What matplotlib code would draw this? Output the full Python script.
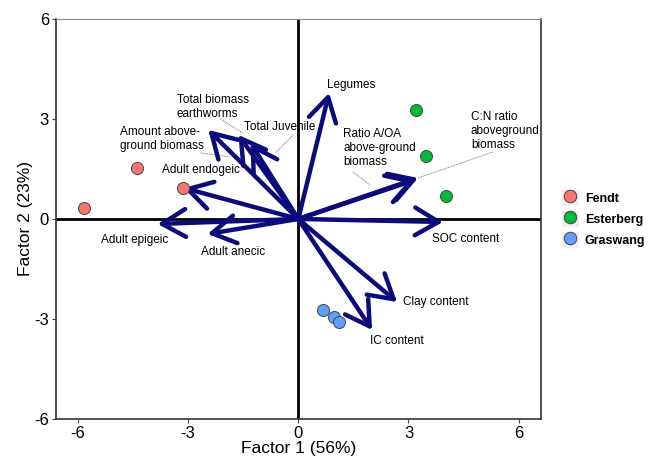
import matplotlib
matplotlib.use("Agg")
import matplotlib.pyplot as plt
from matplotlib.lines import Line2D
from matplotlib.patches import Rectangle

plt.rcParams["font.family"] = ["Liberation Sans", "DejaVu Sans"]
plt.rcParams["axes.unicode_minus"] = False

# site scores
sites = ["Fendt", "Esterberg", "Graswang"]
site_colors = ["#F8766D", "#00BA38", "#619CFF"]
fendt_x = [-5.84, -4.40, -3.15]
fendt_y = [0.33, 1.53, 0.93]
esterberg_x = [3.21, 3.48, 4.02]
esterberg_y = [3.27, 1.89, 0.69]
graswang_x = [0.68, 0.98, 1.11]
graswang_y = [-2.73, -2.94, -3.09]

# variable loadings (arrow tips)
var_names = ["Legumes", "Total biomass earthworms", "Total Juvenile",
             "Amount above-ground biomass", "Adult endogeic", "Adult epigeic",
             "Adult anecic", "Ratio A/OA above-ground biomass",
             "C:N ratio aboveground biomass", "SOC content", "Clay content",
             "IC content"]
var_x = [0.84, -1.63, -1.30, -2.45, -3.12, -3.83, -2.47, 3.18, 3.26, 3.94, 2.69, 2.01]
var_y = [3.78, 2.52, 2.28, 2.67, 0.93, -0.15, -0.45, 1.17, 1.23, -0.09, -2.49, -3.33]

# label text and positions
label_text = ["Legumes", "Total biomass\nearthworms", "Total Juvenile",
              "Amount above-\nground biomass", "Adult endogeic", "Adult epigeic",
              "Adult anecic", "Ratio A/OA\nabove-ground\nbiomass",
              "C:N ratio\naboveground\nbiomass", "SOC content", "Clay content",
              "IC content"]
label_x = [0.79, -3.31, -1.47, -4.86, -3.70, -5.38, -2.66, 1.22, 4.70, 3.64, 2.85, 1.96]
label_y = [4.02, 3.36, 2.76, 2.40, 1.47, -0.63, -0.99, 2.13, 2.64, -0.60, -2.49, -3.66]

# leader lines (start x, start y, end x, end y)
leaders = [(-2.12, 3.00, -1.52, 2.58),
           (-0.14, 2.52, -0.62, 1.98),
           (-2.66, 1.98, -1.85, 1.86),
           (1.49, 1.41, 1.96, 1.02),
           (5.30, 2.01, 3.26, 1.23)]

navy = "#0B0B7C"

fig = plt.figure(figsize=(6.57, 4.61), dpi=100)
ax = fig.add_axes([0.085, 0.091, 0.738, 0.868])

ax.axhline(0, color="black", lw=2, zorder=1)
ax.axvline(0, color="black", lw=2, zorder=1)

for x0, y0, x1, y1 in leaders:
    ax.plot([x0, x1], [y0, y1], color="#555555", lw=0.6, ls=(0, (1, 1)), zorder=2)

for vx, vy in zip(var_x, var_y):
    ax.annotate("", xy=(vx, vy), xytext=(0, 0),
                arrowprops=dict(arrowstyle="->,head_length=0.85,head_width=0.5",
                                lw=3.2, color=navy, mutation_scale=20,
                                shrinkA=0, shrinkB=0),
                zorder=3)

for t, lx, ly in zip(label_text, label_x, label_y):
    ax.text(lx, ly, t, fontsize=8.5, ha="left", va="center", linespacing=1.2, zorder=4)

groups = [(fendt_x, fendt_y), (esterberg_x, esterberg_y), (graswang_x, graswang_y)]
for (gx, gy), c in zip(groups, site_colors):
    ax.scatter(gx, gy, s=75, color=c, edgecolor="#444444", linewidth=0.7, zorder=5)

ax.set_xlim(-6.6, 6.6)
ax.set_ylim(-6, 6)
ax.set_xticks([-6, -3, 0, 3, 6])
ax.set_yticks([-6, -3, 0, 3, 6])
ax.tick_params(labelsize=12, length=3, color="#444444", pad=2)
for side in ["left", "bottom", "right"]:
    ax.spines[side].set_color("#333333")
    ax.spines[side].set_linewidth(1.2)
ax.spines["top"].set_color("#888888")
ax.set_xlabel("Factor 1 (56%)", fontsize=12.5, labelpad=0)
ax.set_ylabel("Factor 2 (23%)", fontsize=12.5, labelpad=1)

handles = []
for c in site_colors:
    bg = Rectangle((0, 0), 1, 1, facecolor="#EFEFEF", edgecolor="none")
    mk = Line2D([], [], marker="o", ls="none", markersize=9,
                markerfacecolor=c, markeredgecolor="#444444", markeredgewidth=0.7)
    handles.append((bg, mk))
ax.legend(handles, sites, loc="center left", bbox_to_anchor=(1.02, 0.5),
          frameon=False, handlelength=1.4, handleheight=1.6, labelspacing=0.4,
          handletextpad=0.45, prop={"weight": "bold", "size": 9})

fig.savefig("out.png", dpi=100)
